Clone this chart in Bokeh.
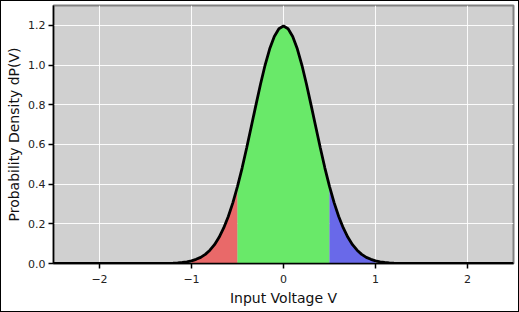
from bokeh.plotting import figure
from bokeh.embed import file_html
from bokeh.resources import INLINE
from bokeh.models import Range1d, FixedTicker

# Curve values (probability density vs input voltage)
volts = [-2.5, -2.4, -2.3, -2.2, -2.1, -2.0, -1.9, -1.8, -1.7, -1.6, -1.5, -1.4, -1.3, -1.2, -1.15, -1.1, -1.05,
         -1.0, -0.95, -0.9, -0.85, -0.8, -0.75, -0.7, -0.65, -0.6, -0.55, -0.5, -0.45, -0.4, -0.35, -0.3,
         -0.25, -0.2, -0.15, -0.1, -0.05, 0.0, 0.05, 0.1, 0.15, 0.2, 0.25, 0.3, 0.35, 0.4, 0.45, 0.5,
         0.55, 0.6, 0.65, 0.7, 0.75, 0.8, 0.85, 0.9, 0.95, 1.0, 1.05, 1.1, 1.15, 1.2, 1.3, 1.4, 1.5,
         1.6, 1.7, 1.8, 1.9, 2.0, 2.1, 2.2, 2.3, 2.4, 2.5]
density = [0.0, 0.0, 0.0, 0.0, 0.0, 0.0, 0.0, 0.0, 0.0, 0.0, 0.0, 0.0, 0.001, 0.002, 0.003, 0.005, 0.008,
           0.013, 0.021, 0.031, 0.046, 0.067, 0.095, 0.132, 0.179, 0.237, 0.307, 0.389, 0.481, 0.583, 0.690, 0.798,
           0.903, 1.000, 1.082, 1.144, 1.183, 1.197, 1.183, 1.144, 1.082, 1.000, 0.903, 0.798, 0.690, 0.583, 0.481, 0.389,
           0.307, 0.237, 0.179, 0.132, 0.095, 0.067, 0.046, 0.031, 0.021, 0.013, 0.008, 0.005, 0.003, 0.002, 0.001, 0.0, 0.0,
           0.0, 0.0, 0.0, 0.0, 0.0, 0.0, 0.0, 0.0, 0.0, 0.0]

# Shaded bands: (start, end, colour)
band_edges = [-1.0, -0.5, 0.5, 1.0]
band_colors = ["#e96969", "#69e969", "#6969e9"]

x_ticks = [-2, -1, 0, 1, 2]
y_ticks = [0.0, 0.2, 0.4, 0.6, 0.8, 1.0, 1.2]

p = figure(width=517, height=310, output_backend="svg", toolbar_location=None,
           x_range=Range1d(-2.5, 2.5), y_range=Range1d(0, 1.3),
           min_border_left=52, min_border_right=5, min_border_top=4, min_border_bottom=48)
p.frame_width = 460
p.frame_height = 258
p.styles = {"border": "1px solid black"}

p.background_fill_color = "#d0d0d0"
p.border_fill_color = "white"
p.outline_line_color = "#808080"
p.outline_line_width = 2

p.xgrid.grid_line_color = "white"
p.ygrid.grid_line_color = "white"
p.xgrid.grid_line_width = 1
p.ygrid.grid_line_width = 1
p.xgrid.grid_line_alpha = 0.9
p.ygrid.grid_line_alpha = 0.9

for i, col in enumerate(band_colors):
    lo, hi = band_edges[i], band_edges[i + 1]
    xs = [v for v in volts if lo <= v <= hi]
    ys = [density[volts.index(v)] for v in xs]
    p.varea(x=xs, y1=[0] * len(xs), y2=ys, fill_color=col, fill_alpha=1.0)

p.line(volts, density, line_color="black", line_width=2.8)

p.xaxis.ticker = FixedTicker(ticks=x_ticks)
p.yaxis.ticker = FixedTicker(ticks=y_ticks)
p.xaxis.major_label_overrides = {-2: "\u22122", -1: "\u22121", 0: "0", 1: "1", 2: "2"}
p.yaxis.major_label_overrides = {v: f"{v:.1f}" for v in y_ticks}

for ax in (p.xaxis, p.yaxis):
    ax.axis_line_color = "black"
    ax.axis_line_width = 1.5
    ax.major_tick_line_color = "black"
    ax.major_tick_line_width = 1.5
    ax.major_tick_in = 0
    ax.major_tick_out = 5
    ax.minor_tick_line_color = None
    ax.major_label_text_font = "DejaVu Sans"
    ax.major_label_text_font_size = "11px"
    ax.major_label_text_color = "#222222"
    ax.axis_label_text_font = "DejaVu Sans"
    ax.axis_label_text_font_size = "14px"
    ax.axis_label_text_font_style = "normal"
    ax.axis_label_text_color = "#111111"

p.xaxis.axis_label = "Input Voltage V"
p.yaxis.axis_label = "Probability Density dP(V)"
p.xaxis.major_label_standoff = 6
p.yaxis.major_label_standoff = 3
p.xaxis.axis_label_standoff = 4
p.yaxis.axis_label_standoff = 3

open("out.html", "w").write(file_html(p, INLINE))
